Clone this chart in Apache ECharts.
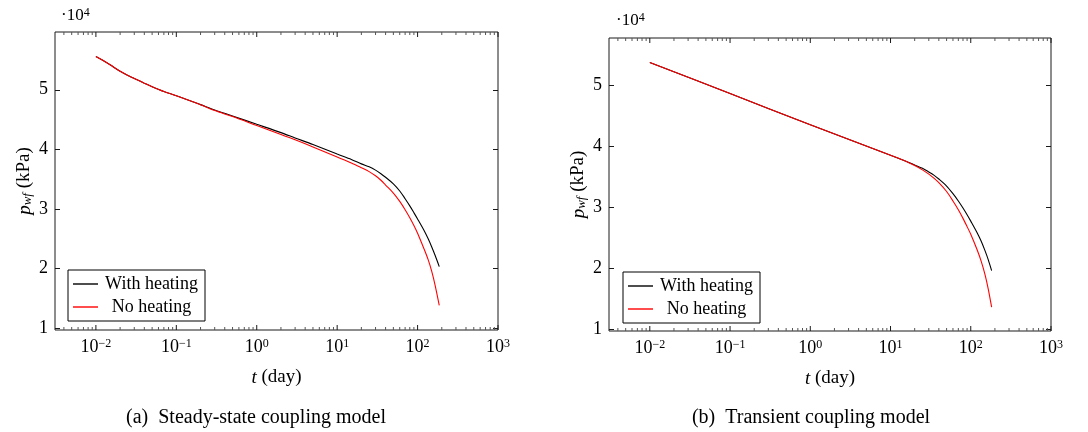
<!DOCTYPE html>
<html>
  <head>
    <meta charset="utf-8" />
    <title>p_wf vs t</title>
    <style type="text/css">
      html,
      body {
        margin: 0;
        padding: 0;
        background: #fff;
      }
    </style>
    <script src="https://cdn.jsdelivr.net/npm/echarts@6/dist/echarts.min.js"></script>
  </head>
  <body>
    <div id="chart" style="width: 1088px; height: 432px"></div>
    <script type="text/javascript">
      // (a) steady-state coupling model, t in day, p in kPa
      var tSteady = [0.01, 0.012, 0.015, 0.02, 0.025, 0.03, 0.04, 0.05, 0.07, 0.1, 0.2, 0.3, 0.5, 1, 2, 3, 5, 10, 15, 20, 25, 30, 35, 40, 50, 60, 70, 80, 90, 100, 120, 135, 150, 165, 186];
      var heatSteady = [55600, 55000, 54200, 53100, 52400, 51900, 51100, 50500, 49700, 49000, 47500, 46600, 45600, 44200, 42800, 41900, 40800, 39200, 38300, 37550, 37050, 36500, 35900, 35300, 34200, 33000, 31700, 30500, 29350, 28300, 26400, 25000, 23600, 22200, 20300];
      var noHeatSteady = [55600, 55000, 54200, 53100, 52400, 51900, 51100, 50500, 49700, 49000, 47500, 46500, 45500, 44000, 42500, 41600, 40400, 38700, 37700, 36900, 36250, 35550, 34800, 34000, 32650, 31250, 29850, 28500, 27200, 25900, 23300, 21500, 19500, 17200, 13800];

      // (b) transient coupling model
      var tTransient = [0.01, 0.1, 1, 10, 15, 20, 25, 30, 35, 40, 50, 60, 70, 80, 90, 100, 120, 135, 150, 165, 182];
      var heatTransient = [53700, 48600, 43500, 38500, 37600, 36900, 36350, 35750, 35200, 34600, 33450, 32200, 31000, 29850, 28750, 27700, 25800, 24400, 22900, 21400, 19600];
      var noHeatTransient = [53700, 48600, 43500, 38500, 37600, 36800, 36100, 35400, 34700, 34000, 32550, 31000, 29550, 28150, 26800, 25550, 23000, 21100, 19000, 16600, 13600];

      var seriesNames = ["With heating", "No heating"];
      var captions = ["(a)\u2002Steady-state coupling model", "(b)\u2002Transient coupling model"];
      var xMajorTicks = [0.01, 0.1, 1, 10, 100, 1000];
      var xMinorTicks = [0.004, 0.005, 0.006, 0.007, 0.008, 0.009, 0.02, 0.03, 0.04, 0.05, 0.06, 0.07, 0.08, 0.09, 0.2, 0.3, 0.4, 0.5, 0.6, 0.7, 0.8, 0.9, 2, 3, 4, 5, 6, 7, 8, 9, 20, 30, 40, 50, 60, 70, 80, 90, 200, 300, 400, 500, 600, 700, 800, 900];
      var yTicks = [10000, 20000, 30000, 40000, 50000];

      var FONT = "Liberation Serif";
      var AXIS_COLOR = "#1a1a1a";
      var MAJOR_LEN = 5;
      var MINOR_LEN = 3;

      var panels = [
        { grid: { left: 55, top: 32, width: 443, height: 298 }, yMin: 9650, yMax: 59700, t: tSteady, heat: heatSteady, noHeat: noHeatSteady, legendPos: { left: 68, top: 270 }, capX: 256, expX: 61, expY: 7 },
        { grid: { left: 609, top: 38, width: 442, height: 293 }, yMin: 9700, yMax: 57700, t: tTransient, heat: heatTransient, noHeat: noHeatTransient, legendPos: { left: 623, top: 272 }, capX: 811, expX: 616, expY: 12 },
      ];

      function supLabel(v) {
        var e = Math.round(Math.log10(v));
        return "10{s|" + (e < 0 ? "\u2212" + -e : e) + "}";
      }

      function zip(xs, ys) {
        return xs.map(function (x, i) {
          return [x, ys[i]];
        });
      }

      // pgfplots-like inward ticks on top and bottom edges, placed through the log axis
      function tickRenderer(yMin, yMax) {
        return function (params, api) {
          var t = api.value(0);
          var len = api.value(1);
          var bottom = api.coord([t, yMin]);
          var top = api.coord([t, yMax]);
          var style = { stroke: len > MINOR_LEN ? AXIS_COLOR : "#555", lineWidth: 1 };
          return {
            type: "group",
            children: [
              { type: "line", shape: { x1: bottom[0], y1: bottom[1], x2: bottom[0], y2: bottom[1] - len }, style: style },
              { type: "line", shape: { x1: top[0], y1: top[1], x2: top[0], y2: top[1] + len }, style: style },
            ],
          };
        };
      }

      var chart = echarts.init(document.getElementById("chart"), null, { renderer: "canvas" });

      var option = {
        animation: false,
        backgroundColor: "#fff",
        grid: [],
        xAxis: [],
        yAxis: [],
        series: [],
        legend: [],
        title: [],
      };

      panels.forEach(function (p, gi) {
        option.grid.push(Object.assign({ show: true, borderColor: AXIS_COLOR, borderWidth: 1, backgroundColor: "transparent" }, p.grid));

        option.xAxis.push({
          type: "log",
          logBase: 10,
          gridIndex: gi,
          position: "bottom",
          min: 0.0031,
          max: 1000,
          splitLine: { show: false },
          axisLine: { show: false, onZero: false },
          axisTick: { show: false },
          axisLabel: {
            show: true,
            customValues: xMajorTicks,
            margin: 8,
            formatter: supLabel,
            color: "#000",
            fontFamily: FONT,
            fontSize: 18,
            rich: { s: { fontFamily: FONT, fontSize: 12, verticalAlign: "top", lineHeight: 12, color: "#000" } },
          },
          name: "{i|t} (day)",
          nameLocation: "middle",
          nameGap: 38,
          nameTextStyle: { color: "#000", fontFamily: FONT, fontSize: 19, rich: { i: { fontStyle: "italic", fontFamily: FONT, fontSize: 19, color: "#000" } } },
        });

        option.yAxis.push({
          type: "value",
          gridIndex: gi,
          position: "left",
          min: p.yMin,
          max: p.yMax,
          splitLine: { show: false },
          axisLine: { show: false, onZero: false },
          axisTick: { show: true, inside: true, length: MAJOR_LEN, customValues: yTicks, lineStyle: { color: AXIS_COLOR } },
          axisLabel: {
            customValues: yTicks,
            margin: 7,
            color: "#000",
            fontFamily: FONT,
            fontSize: 18,
            formatter: function (v) {
              return String(Math.round(v / 10000));
            },
          },
          name: "{i|p}{sub|wf} (kPa)",
          nameLocation: "middle",
          nameRotate: 90,
          nameGap: 21,
          nameTextStyle: {
            color: "#000",
            fontFamily: FONT,
            fontSize: 19,
            rich: {
              i: { fontStyle: "italic", fontFamily: FONT, fontSize: 19, color: "#000" },
              sub: { fontStyle: "italic", fontFamily: FONT, fontSize: 13, verticalAlign: "bottom", color: "#000" },
            },
          },
        });
        option.yAxis.push({
          type: "value",
          gridIndex: gi,
          position: "right",
          min: p.yMin,
          max: p.yMax,
          splitLine: { show: false },
          axisLine: { show: false, onZero: false },
          axisTick: { show: true, inside: true, length: MAJOR_LEN, customValues: yTicks, lineStyle: { color: AXIS_COLOR } },
          axisLabel: { show: false },
        });

        var yIdx = gi * 2;

        option.series.push({
          name: "x ticks " + gi,
          type: "custom",
          xAxisIndex: gi,
          yAxisIndex: yIdx,
          silent: true,
          clip: false,
          renderItem: tickRenderer(p.yMin, p.yMax),
          data: xMajorTicks
            .map(function (t) {
              return [t, MAJOR_LEN];
            })
            .concat(
              xMinorTicks.map(function (t) {
                return [t, MINOR_LEN];
              })
            ),
          z: 1,
        });

        option.series.push({
          name: seriesNames[0],
          type: "line",
          xAxisIndex: gi,
          yAxisIndex: yIdx,
          showSymbol: false,
          symbol: "none",
          smooth: 0.3,
          lineStyle: { color: "#000", width: 1.1 },
          itemStyle: { color: "#000" },
          data: zip(p.t, p.heat),
          z: 2,
        });
        option.series.push({
          name: seriesNames[1],
          type: "line",
          xAxisIndex: gi,
          yAxisIndex: yIdx,
          showSymbol: false,
          symbol: "none",
          smooth: 0.3,
          lineStyle: { color: "#ff0000", width: 1.1 },
          itemStyle: { color: "#ff0000" },
          data: zip(p.t, p.noHeat),
          z: 3,
        });

        option.legend.push({
          data: seriesNames.map(function (n) {
            return { name: n, icon: "rect" };
          }),
          orient: "vertical",
          left: p.legendPos.left,
          top: p.legendPos.top,
          itemWidth: 25,
          itemHeight: 1.4,
          itemGap: 3,
          padding: [4, 5, 4, 5],
          borderColor: "#000",
          borderWidth: 1,
          backgroundColor: "#fff",
          selectedMode: false,
          formatter: function (name) {
            return "{c|" + name + "}";
          },
          textStyle: {
            color: "#000",
            fontFamily: FONT,
            fontSize: 18,
            rich: { c: { width: 97, height: 20, lineHeight: 20, align: "center", fontFamily: FONT, fontSize: 18, color: "#000" } },
          },
        });

        option.title.push({
          text: "\u00b710{s|4}",
          left: p.expX,
          top: p.expY,
          padding: 0,
          textStyle: {
            color: "#000",
            fontFamily: FONT,
            fontSize: 17,
            fontWeight: "normal",
            rich: { s: { fontFamily: FONT, fontSize: 12, verticalAlign: "top", lineHeight: 12, color: "#000" } },
          },
        });
        option.title.push({
          text: captions[gi],
          left: p.capX,
          top: 408,
          textAlign: "center",
          padding: 0,
          textStyle: { color: "#000", fontFamily: FONT, fontSize: 20, fontWeight: "normal" },
        });
      });

      chart.setOption(option);
    </script>
  </body>
</html>
